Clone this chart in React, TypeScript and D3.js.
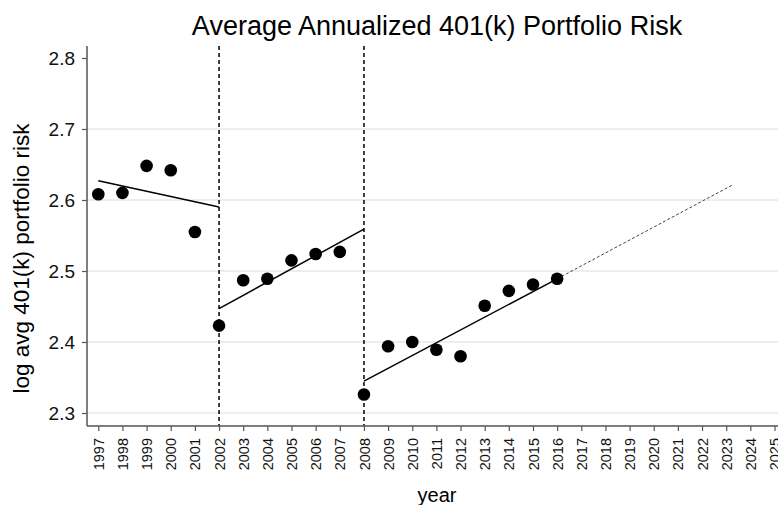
import React, { useEffect, useRef } from "react";
import * as d3 from "d3";

const years = [1997, 1998, 1999, 2000, 2001, 2002, 2003, 2004, 2005, 2006, 2007, 2008, 2009, 2010, 2011, 2012, 2013, 2014, 2015, 2016];
const risk = [2.608, 2.61, 2.648, 2.642, 2.555, 2.423, 2.487, 2.489, 2.515, 2.524, 2.527, 2.326, 2.394, 2.4, 2.389, 2.38, 2.451, 2.472, 2.481, 2.489];

// fitted trend per regime: [fromYear, toYear, fromValue, toValue]
const fitStart = [1997, 2002, 2008];
const fitEnd = [2002, 2008, 2016];
const fitStartVal = [2.627, 2.447, 2.345];
const fitEndVal = [2.59, 2.559, 2.489];

// dashed projection of the last trend
const projYears = [2016, 2023.25];
const projVals = [2.489, 2.621];

const breakYears = [2002, 2008];
const yTicks = [2.3, 2.4, 2.5, 2.6, 2.7, 2.8];
const xTicks = d3.range(1997, 2026);

const W = 778;
const H = 505;
const font = "Arial, 'Liberation Sans', sans-serif";

const App = () => {
  const ref = useRef<SVGSVGElement>(null);

  useEffect(() => {
    const svg = d3.select(ref.current);
    svg.selectAll("*").remove();

    const left = 87, top = 46, bottom = 426;
    const x = d3.scaleLinear().domain([1997, 2025]).range([98.3, 774.5]);
    const y = d3.scaleLinear().domain([2.3, 2.8]).range([413, 58]);

    // grid
    svg.append("g")
      .selectAll("line")
      .data(yTicks.filter((t) => t < 2.75))
      .enter()
      .append("line")
      .attr("x1", left)
      .attr("x2", W)
      .attr("y1", (d) => y(d))
      .attr("y2", (d) => y(d))
      .attr("stroke", "#dcdcdc")
      .attr("stroke-width", 1);

    // break lines
    svg.append("g")
      .selectAll("line")
      .data(breakYears)
      .enter()
      .append("line")
      .attr("x1", (d) => x(d))
      .attr("x2", (d) => x(d))
      .attr("y1", top)
      .attr("y2", bottom)
      .attr("stroke", "#000")
      .attr("stroke-width", 1.5)
      .attr("stroke-dasharray", "4,3");

    // axes
    const yAxis = svg.append("g").attr("transform", `translate(${left},0)`)
      .call(d3.axisLeft(y).tickValues(yTicks).tickSize(5).tickFormat(d3.format(".1f")));
    yAxis.select(".domain").remove();
    yAxis.append("line").attr("x1", 0).attr("x2", 0).attr("y1", top).attr("y2", bottom)
      .attr("stroke", "#555").attr("stroke-width", 1.5);
    yAxis.selectAll(".tick line").attr("stroke", "#555").attr("stroke-width", 1.2);
    yAxis.selectAll(".tick text")
      .attr("x", -12)
      .style("font-family", font)
      .style("font-size", "19px")
      .attr("fill", "#111");

    const xAxis = svg.append("g").attr("transform", `translate(0,${bottom})`)
      .call(d3.axisBottom(x).tickValues(xTicks).tickSize(5).tickFormat(d3.format("d")));
    xAxis.select(".domain").remove();
    xAxis.append("line").attr("x1", left).attr("x2", W).attr("y1", 0).attr("y2", 0)
      .attr("stroke", "#555").attr("stroke-width", 1.5);
    xAxis.selectAll(".tick line").attr("stroke", "#555").attr("stroke-width", 1.2);
    xAxis.selectAll(".tick text")
      .attr("transform", "rotate(-90)")
      .attr("x", -12)
      .attr("y", 0)
      .attr("dy", "0.35em")
      .attr("text-anchor", "end")
      .style("font-family", font)
      .style("font-size", "14.5px")
      .attr("fill", "#111");

    // fitted segments
    svg.append("g")
      .selectAll("line")
      .data(fitStart.map((s, i) => i))
      .enter()
      .append("line")
      .attr("x1", (i) => x(fitStart[i]))
      .attr("x2", (i) => x(fitEnd[i]))
      .attr("y1", (i) => y(fitStartVal[i]))
      .attr("y2", (i) => y(fitEndVal[i]))
      .attr("stroke", "#000")
      .attr("stroke-width", 1.5);

    // projection
    const proj = d3.line<number>().x((d, i) => x(projYears[i])).y((d) => y(d));
    svg.append("path")
      .attr("d", proj(projVals))
      .attr("fill", "none")
      .attr("stroke", "#444")
      .attr("stroke-width", 1)
      .attr("stroke-dasharray", "3,2");

    // points
    svg.append("g")
      .selectAll("circle")
      .data(years)
      .enter()
      .append("circle")
      .attr("cx", (d) => x(d))
      .attr("cy", (d, i) => y(risk[i]))
      .attr("r", 6.3)
      .attr("fill", "#000");

    // labels
    svg.append("text")
      .attr("x", 437)
      .attr("y", 35)
      .attr("text-anchor", "middle")
      .style("font-family", font)
      .style("font-size", "27px")
      .text("Average Annualized 401(k) Portfolio Risk");

    svg.append("text")
      .attr("transform", `translate(29,${(110 + 407) / 2}) rotate(-90)`)
      .attr("text-anchor", "middle")
      .style("font-family", font)
      .style("font-size", "22.5px")
      .text("log avg 401(k) portfolio risk");

    svg.append("text")
      .attr("x", 437)
      .attr("y", 502)
      .attr("text-anchor", "middle")
      .style("font-family", font)
      .style("font-size", "20px")
      .text("year");
  }, []);

  return (
    <svg ref={ref} width={W} height={H} style={{ position: "absolute", left: 0, top: 0, background: "#fff" }} />
  );
};

export default App;
